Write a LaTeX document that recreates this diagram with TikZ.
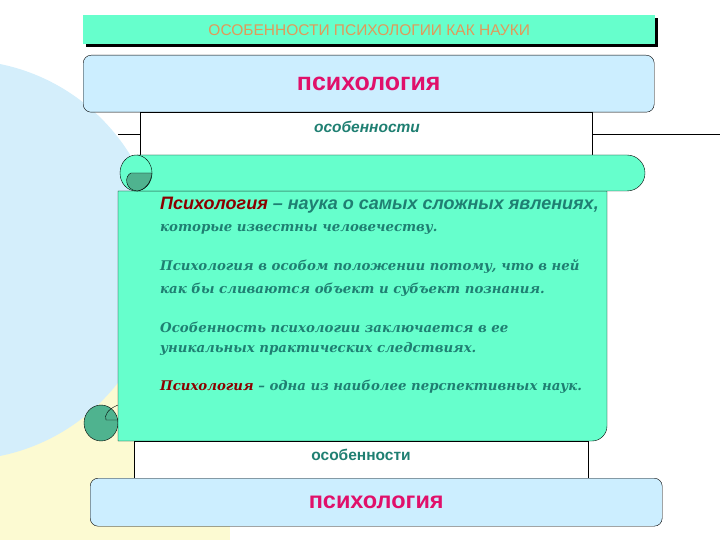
\documentclass[tikz,border=0pt]{standalone}
\usepackage{fontspec}
\setmainfont{DejaVu Serif}
\setsansfont{Liberation Sans}
\definecolor{aqua}{HTML}{66FFCC}
\definecolor{lblue}{HTML}{CCEEFF}
\definecolor{bgblue}{HTML}{D4EEFB}
\definecolor{bgyel}{HTML}{FCFAD2}
\definecolor{teal2}{HTML}{1F7F72}
\definecolor{mag}{HTML}{E0106A}
\definecolor{darkred}{HTML}{8B0000}
\definecolor{orng}{HTML}{E09A5A}
\definecolor{curl}{HTML}{4FB38F}
\begin{document}
\begin{tikzpicture}[x=1pt,y=-1pt,
  txt/.style={anchor=west,inner sep=0pt,text=teal2,font=\bfseries\itshape\fontsize{13.3}{16}\selectfont},
  osob/.style={text=teal2},
  psy/.style={text=mag}]
\useasboundingbox (0,0) rectangle (720,540);
% background
\fill[bgyel] (0,330) rectangle (230,540);
\fill[bgblue] (-40,260) circle (200);
% title
\fill[black] (86,18) rectangle (658,47);
\node[draw=none,fill=aqua,minimum width=572pt,minimum height=29pt,anchor=north west,inner sep=0pt,
  text=orng,font=\sffamily\fontsize{15.5}{17}\selectfont] (title) at (83,15) {ОСОБЕННОСТИ ПСИХОЛОГИИ КАК НАУКИ};
% side line
\draw (118,134) -- (720,134);
% top box
\node[draw,rounded corners=8pt,fill=lblue,minimum width=571pt,minimum height=57pt,anchor=north west,inner sep=0pt,
  psy,font=\sffamily\bfseries\fontsize{25}{27}\selectfont] (top) at (83,55) {психология};
\node[draw,fill=white,minimum width=452pt,minimum height=43pt,anchor=north west,inner sep=0pt] (w1) at (140,112) {};
\node[osob,font=\sffamily\bfseries\itshape\fontsize{15.5}{17}\selectfont] (o1) at (367,127) {особенности};
% bottom curl
\draw[fill=curl] (101,423) ellipse[x radius=17pt,y radius=18pt];
\draw (118,405) .. controls (108,409) and (104,415) .. (106,420) -- (118,420);
% scroll body
\draw[fill=aqua] (118,191) -- (118,441) -- (592,441) arc[start angle=-90,end angle=0,radius=15pt]
  -- (607,191) -- cycle;
% top roll
\draw[fill=aqua] (137,155) -- (627,155) arc[start angle=-90,end angle=90,x radius=18pt,y radius=-18pt] -- (137,191);
\draw[fill=aqua] (136,173) ellipse[x radius=16pt,y radius=18pt];
\fill[curl,draw=black] (152,173) -- (131,173) .. controls (124,176) and (125,190) .. (137,191)
  .. controls (145,190) and (151,183) .. (152,173);
% bottom white
\node[draw,fill=white,minimum width=454pt,minimum height=37pt,anchor=north west,inner sep=0pt] (w2) at (134,441) {};
\node[osob,font=\sffamily\bfseries\fontsize{15.5}{17}\selectfont] (o2) at (361,455) {особенности};
% bottom box
\node[draw,rounded corners=8pt,fill=lblue,minimum width=572pt,minimum height=48pt,anchor=north west,inner sep=0pt,
  psy,font=\sffamily\bfseries\fontsize{23.5}{25}\selectfont] (bot) at (90,478) {психология};
% texts
\node[txt,font=\sffamily\bfseries\itshape\fontsize{18}{20}\selectfont] (l1) at (160,205) {\textcolor{darkred}{Психология} – наука о самых сложных явлениях,};
\node[txt] (l2) at (160,229) {которые известны человечеству.};
\node[txt] (l3) at (160,267) {Психология в особом положении потому, что в ней};
\node[txt] (l4) at (160,290) {как бы сливаются объект и субъект познания.};
\node[txt] (l5) at (160,327) {Особенность психологии заключается в ее};
\node[txt] (l6) at (160,349) {уникальных практических следствиях.};
\node[txt] (l7) at (160,387) {\textcolor{darkred}{Психология} – одна из наиболее перспективных наук.};
\end{tikzpicture}
\end{document}
